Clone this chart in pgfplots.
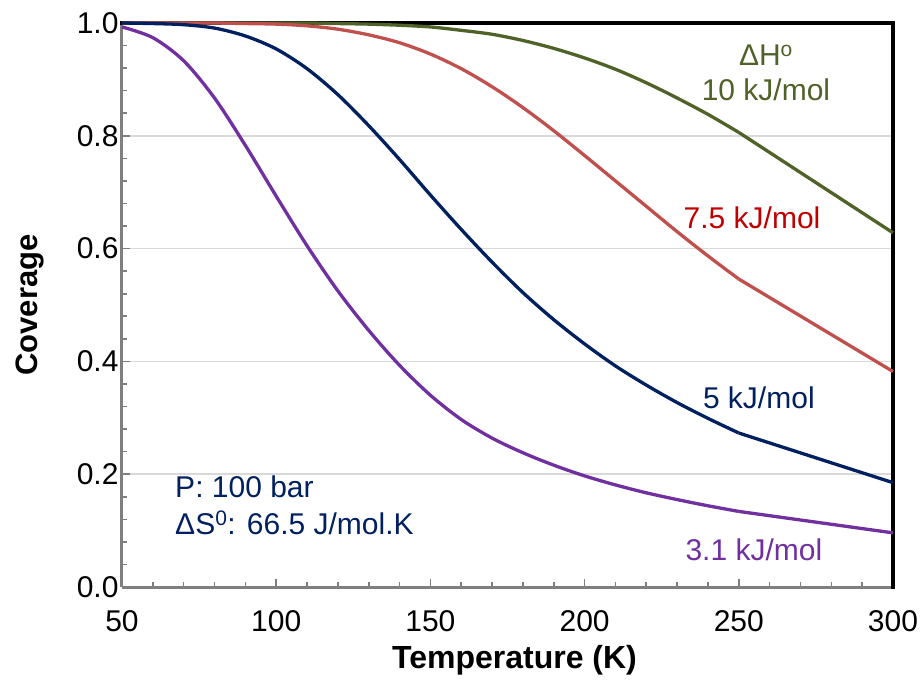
\documentclass[border=0pt]{standalone}
\usepackage{pgfplots}
\pgfplotsset{compat=1.18}
\usepackage{fontspec}
\setmainfont{Liberation Sans}
\definecolor{cGreen}{HTML}{4F6228}
\definecolor{cRed}{HTML}{C0504D}
\definecolor{cRedText}{HTML}{C00000}
\definecolor{cBlue}{HTML}{002060}
\definecolor{cPurple}{HTML}{7030A0}
\definecolor{cGrid}{HTML}{D9D9D9}
\definecolor{cAxis}{HTML}{7F7F7F}
\begin{document}
\begin{tikzpicture}
\path[use as bounding box] (-122pt,-94pt) rectangle (799pt,587pt);
\begin{axis}[
  at={(0,0)}, anchor=south west,
  scale only axis, width=771pt, height=564pt,
  xmin=50, xmax=300, ymin=0, ymax=1,
  clip=false,
  axis x line*=bottom, axis y line*=left,
  x axis line style={-, draw=cAxis, line width=3pt},
  y axis line style={-, draw=cAxis, line width=3pt},
  xtick={50,100,150,200,250,300},
  ytick={0,0.2,0.4,0.6,0.8,1.0},
  minor x tick num=4, minor y tick num=4,
  tick align=inside,
  major tick length=8pt, minor tick length=5pt,
  tick style={draw=cAxis, line width=1.6pt},
  ymajorgrids, grid style={draw=cGrid, line width=1.5pt},
  /pgf/number format/assume math mode=true,
  yticklabel style={/pgf/number format/.cd, fixed, fixed zerofill, precision=1},
  ticklabel style={font=\fontsize{30}{30}\selectfont, text=black},
  xticklabel style={yshift=-20pt},
  xlabel={Temperature (K)}, ylabel={Coverage},
  every axis x label/.style={at={(rel axis cs:0.5,0)}, anchor=center, xshift=7pt, yshift=-73pt, font=\fontsize{32}{32}\selectfont\bfseries},
  every axis y label/.style={at={(rel axis cs:0,0.5)}, rotate=90, anchor=center, yshift=92pt, yshift=0pt, font=\fontsize{31}{31}\selectfont\bfseries},
]
\draw[black, line width=4.5pt, line cap=rect] (rel axis cs:0,1) -- (rel axis cs:1,1) -- (rel axis cs:1,0);

% 10 kJ/mol
\addplot[cGreen, line width=3.3pt, line join=round, smooth] coordinates {
(50,1.000)(60,1.000)(70,1.000)(80,1.000)(90,1.000)(100,1.000)(110,1.000)(120,0.999)(130,0.998)(140,0.996)(150,0.993)(160,0.987)(170,0.980)(180,0.969)(190,0.955)(200,0.938)(210,0.918)(220,0.894)(230,0.867)(240,0.838)(250,0.806)};
\addplot[cGreen, line width=3.3pt, line join=round] coordinates {(250,0.806)(300,0.628)};

% 7.5 kJ/mol
\addplot[cRed, line width=3.3pt, line join=round, smooth] coordinates {
(50,1.000)(60,1.000)(70,1.000)(80,1.000)(90,0.999)(100,0.998)(110,0.995)(120,0.989)(130,0.979)(140,0.965)(150,0.945)(160,0.919)(170,0.887)(180,0.850)(190,0.809)(200,0.765)(210,0.720)(220,0.675)(230,0.630)(240,0.587)(250,0.546)};
\addplot[cRed, line width=3.3pt, line join=round] coordinates {(250,0.546)(300,0.382)};

% 5 kJ/mol
\addplot[cBlue, line width=3.3pt, line join=round, smooth] coordinates {
(50,1.000)(60,0.999)(70,0.997)(80,0.991)(90,0.977)(100,0.954)(110,0.919)(120,0.873)(130,0.818)(140,0.758)(150,0.695)(160,0.634)(170,0.576)(180,0.522)(190,0.474)(200,0.431)(210,0.392)(220,0.358)(230,0.327)(240,0.299)(250,0.273)};
\addplot[cBlue, line width=3.3pt, line join=round] coordinates {(250,0.273)(300,0.185)};

% 3.1 kJ/mol
\addplot[cPurple, line width=3.3pt, line join=round, smooth] coordinates {
(50,0.993)(60,0.974)(70,0.933)(80,0.867)(90,0.783)(100,0.693)(110,0.605)(120,0.525)(130,0.455)(140,0.393)(150,0.340)(160,0.297)(170,0.264)(180,0.238)(190,0.216)(200,0.197)(210,0.181)(220,0.167)(230,0.155)(240,0.144)(250,0.134)};
\addplot[cPurple, line width=3.3pt, line join=round] coordinates {(250,0.134)(300,0.096)};

\node[text=cGreen, font=\fontsize{30}{30}\selectfont, anchor=center] at (axis cs:258.8,0.943) {ΔH\textsuperscript{o}};
\node[text=cGreen, font=\fontsize{30}{30}\selectfont, anchor=center] at (axis cs:258.8,0.881) {10 kJ/mol};
\node[text=cRedText, font=\fontsize{30}{30}\selectfont, anchor=center] at (axis cs:254.3,0.654) {7.5 kJ/mol};
\node[text=cBlue, font=\fontsize{30}{30}\selectfont, anchor=center] at (axis cs:256.5,0.335) {5 kJ/mol};
\node[text=cPurple, font=\fontsize{30}{30}\selectfont, anchor=center] at (axis cs:254.9,0.066) {3.1 kJ/mol};
\node[text=cBlue, font=\fontsize{30}{30}\selectfont, anchor=west, inner sep=0pt] at (axis cs:67.2,0.177) {P: 100 bar};
\node[text=cBlue, font=\fontsize{30}{30}\selectfont, anchor=west, inner sep=0pt] at (axis cs:67.2,0.113) {ΔS\textsuperscript{0}: 66.5 J/mol.K};
\end{axis}
\end{tikzpicture}
\end{document}
